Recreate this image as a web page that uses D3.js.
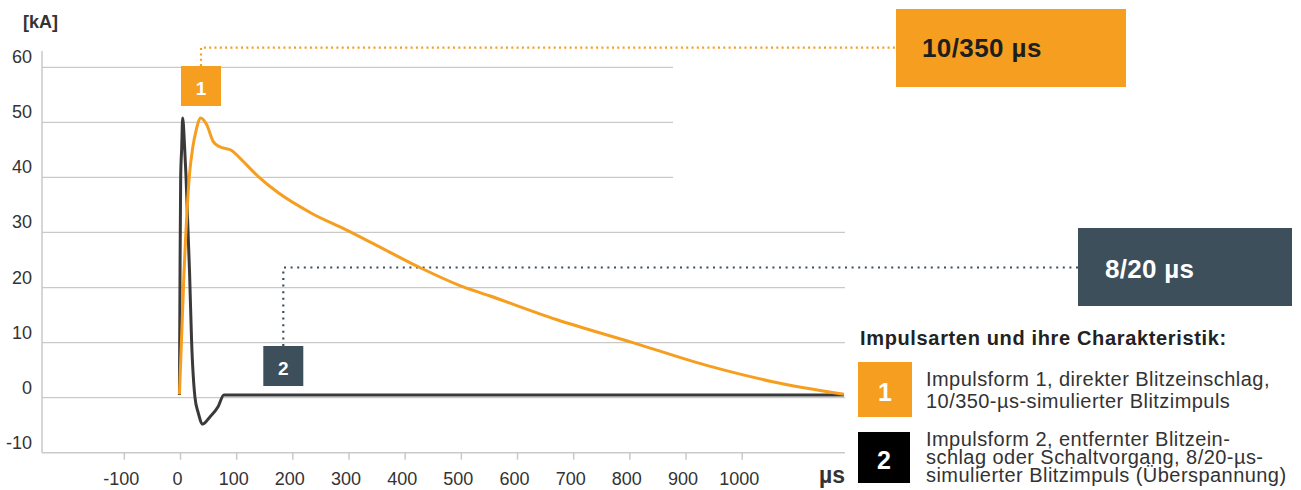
<!DOCTYPE html>
<html lang="de">
<head>
<meta charset="utf-8">
<script src="https://cdn.jsdelivr.net/npm/d3@7"></script>
<style>
  html, body { margin: 0; padding: 0; background: #fff; }
  svg { display: block; font-family: "Liberation Sans", Arial, Helvetica, sans-serif; }
</style>
</head>
<body>
<svg id="chart" width="1301" height="490"></svg>
<script>
// Impulse current waveforms: time in µs, current in kA
const impulse1 = [ // 10/350 µs
  [-1, 0.6], [7, 22.3], [16.6, 40.2], [22.5, 45.3], [28.4, 48.4], [36.8, 50.8],
  [47.4, 49.6], [59.3, 46.5], [70, 45.6], [92, 44.9], [106.7, 43.5],
  [139, 40.2], [175, 37.2], [234, 33.5], [295, 30.5], [358.5, 27.2], [429.6, 23.5],
  [494.8, 20.5], [551, 18.5], [670, 14.2], [806, 10], [936, 5.9], [1055, 2.9], [1182, 0.6]
];
const impulse2 = [ // 8/20 µs
  [-1, 0.5], [0, 22], [1.2, 40], [3, 45.3], [4.7, 50.8], [8.3, 45.3], [10.7, 40.2],
  [17, 22.8], [20.7, 10.1], [26.7, 0], [32.6, -2.8], [40.2, -4.8], [53.3, -3.5],
  [68, -1.6], [78.2, 0.5], [1182, 0.5]
];
const xTicks = [-100, 0, 100, 200, 300, 400, 500, 600, 700, 800, 900, 1000];
const yTicks = [-10, 0, 10, 20, 30, 40, 50, 60];
const yTicksShortGrid = [40, 50, 60];
const labels = {
  unitY: "[kA]",
  unitX: "µs",
  wave1: "10/350 µs",
  wave2: "8/20 µs",
  legendTitle: "Impulsarten und ihre Charakteristik:"
};
const legendLines1 = ["Impulsform 1, direkter Blitzeinschlag,", "10/350-µs-simulierter Blitzimpuls"];
const legendLines2 = ["Impulsform 2, entfernter Blitzein-", "schlag oder Schaltvorgang, 8/20-µs-", "simulierter Blitzimpuls (Überspannung)"];

const ORANGE = "#F59E1F";
const SLATE = "#3D4F5A";
const DARK = "#3a3a3a";
const TEXT = "#333";
const GRID = "#c9c9c9";

const svg = d3.select("#chart");

const plotLeft = 42, plotRight = 845, gridShortRight = 673;
const x = d3.scaleLinear().domain([0, 1000]).range([180, 741.7]);
const y = d3.scaleLinear().domain([-10, 60]).range([452.7, 67.3]);
const plainNumber = d => String(d);

// horizontal grid lines
svg.append("g").selectAll("line")
  .data(yTicks.filter(v => v > -10))
  .join("line")
  .attr("x1", plotLeft)
  .attr("x2", d => yTicksShortGrid.includes(d) ? gridShortRight : plotRight)
  .attr("y1", d => y(d)).attr("y2", d => y(d))
  .attr("stroke", GRID).attr("stroke-width", 1.3);

// axis lines
svg.append("line").attr("x1", plotLeft).attr("x2", plotLeft)
  .attr("y1", 51).attr("y2", y(-10)).attr("stroke", GRID).attr("stroke-width", 1.5);
svg.append("line").attr("x1", plotLeft).attr("x2", plotRight)
  .attr("y1", y(-10)).attr("y2", y(-10)).attr("stroke", GRID).attr("stroke-width", 1.5);

// x axis ticks and labels
const xAxis = svg.append("g")
  .attr("transform", `translate(0,${y(-10)})`)
  .call(d3.axisBottom(x).tickValues(xTicks).tickSize(7).tickSizeOuter(0).tickFormat(plainNumber));
xAxis.select(".domain").remove();
xAxis.selectAll(".tick line").attr("stroke", GRID).attr("stroke-width", 1.5);
xAxis.selectAll(".tick text")
  .attr("y", 32).attr("dy", 0).attr("dx", -3)
  .attr("fill", TEXT).attr("font-size", 18)
  .attr("font-family", "'Liberation Sans', Arial, sans-serif");

// y axis labels (sitting above each grid line)
const yAxis = svg.append("g")
  .attr("transform", `translate(${plotLeft},0)`)
  .call(d3.axisLeft(y).tickValues(yTicks).tickSize(0).tickFormat(plainNumber));
yAxis.select(".domain").remove();
yAxis.selectAll(".tick text")
  .attr("x", -10).attr("dy", -4.5)
  .attr("fill", TEXT).attr("font-size", 18)
  .attr("font-family", "'Liberation Sans', Arial, sans-serif");

// unit labels
svg.append("text").attr("x", 23).attr("y", 28)
  .attr("font-size", 18).attr("font-weight", "bold").attr("fill", TEXT)
  .text(labels.unitY);
svg.append("text").attr("x", plotRight).attr("y", 483)
  .attr("text-anchor", "end")
  .attr("font-size", 23).attr("font-weight", "bold").attr("fill", TEXT)
  .text(labels.unitX);

// dotted leader lines from marker boxes to waveform name boxes
svg.append("path")
  .attr("d", `M201,66 V47.7 H896`)
  .attr("fill", "none").attr("stroke", ORANGE).attr("stroke-width", 2.2)
  .attr("stroke-dasharray", "2,3.3");
svg.append("path")
  .attr("d", `M283.3,346 V267.5 H1078`)
  .attr("fill", "none").attr("stroke", SLATE).attr("stroke-width", 2.2)
  .attr("stroke-dasharray", "2,4.6");

// waveforms
const line = d3.line()
  .x(d => x(d[0]))
  .y(d => y(d[1]))
  .curve(d3.curveMonotoneX);

svg.append("path").datum(impulse2)
  .attr("d", line).attr("fill", "none")
  .attr("stroke", DARK).attr("stroke-width", 3).attr("stroke-linejoin", "round");
svg.append("path").datum(impulse1)
  .attr("d", line).attr("fill", "none")
  .attr("stroke", ORANGE).attr("stroke-width", 3).attr("stroke-linejoin", "round");

// numbered marker boxes on the chart
function marker(cx, top, size, fill, num, fontSize, baseline) {
  svg.append("rect").attr("x", cx - size / 2).attr("y", top)
    .attr("width", size).attr("height", size).attr("fill", fill);
  svg.append("text").attr("x", cx).attr("y", baseline)
    .attr("text-anchor", "middle").attr("fill", "#fff")
    .attr("font-size", fontSize).attr("font-weight", "bold").text(num);
}
marker(201, 66, 40, ORANGE, "1", 19, 94.5);
marker(283.3, 346, 40, SLATE, "2", 19, 374.5);

// waveform name boxes
svg.append("rect").attr("x", 896).attr("y", 9).attr("width", 230).attr("height", 78).attr("fill", ORANGE);
svg.append("text").attr("x", 922).attr("y", 57)
  .attr("font-size", 26).attr("font-weight", "bold").attr("fill", "#1e1e1e")
  .attr("letter-spacing", 0.4)
  .text(labels.wave1);
svg.append("rect").attr("x", 1078).attr("y", 228).attr("width", 214).attr("height", 78).attr("fill", SLATE);
svg.append("text").attr("x", 1105).attr("y", 278)
  .attr("font-size", 26).attr("font-weight", "bold").attr("fill", "#fff")
  .attr("letter-spacing", 0.3)
  .text(labels.wave2);

// legend
svg.append("text").attr("x", 860).attr("y", 345)
  .attr("font-size", 20).attr("font-weight", "bold").attr("fill", "#222")
  .attr("letter-spacing", 0.65)
  .text(labels.legendTitle);

svg.append("rect").attr("x", 858).attr("y", 362).attr("width", 54).attr("height", 55).attr("fill", ORANGE);
svg.append("text").attr("x", 885).attr("y", 401)
  .attr("text-anchor", "middle").attr("fill", "#fff")
  .attr("font-size", 25).attr("font-weight", "bold").text("1");
svg.append("rect").attr("x", 858).attr("y", 432).attr("width", 52).attr("height", 51).attr("fill", "#000");
svg.append("text").attr("x", 884).attr("y", 469)
  .attr("text-anchor", "middle").attr("fill", "#fff")
  .attr("font-size", 25).attr("font-weight", "bold").text("2");

svg.append("text").attr("font-size", 20).attr("fill", TEXT)
  .attr("letter-spacing", 0.45)
  .selectAll("tspan").data(legendLines1).join("tspan")
  .attr("x", 926).attr("y", (d, i) => 386 + i * 21.7).text(d => d);
svg.append("text").attr("font-size", 20).attr("fill", TEXT)
  .attr("letter-spacing", 0.45)
  .selectAll("tspan").data(legendLines2).join("tspan")
  .attr("x", 926).attr("y", (d, i) => 446 + i * 17.9).text(d => d);
</script>
</body>
</html>
